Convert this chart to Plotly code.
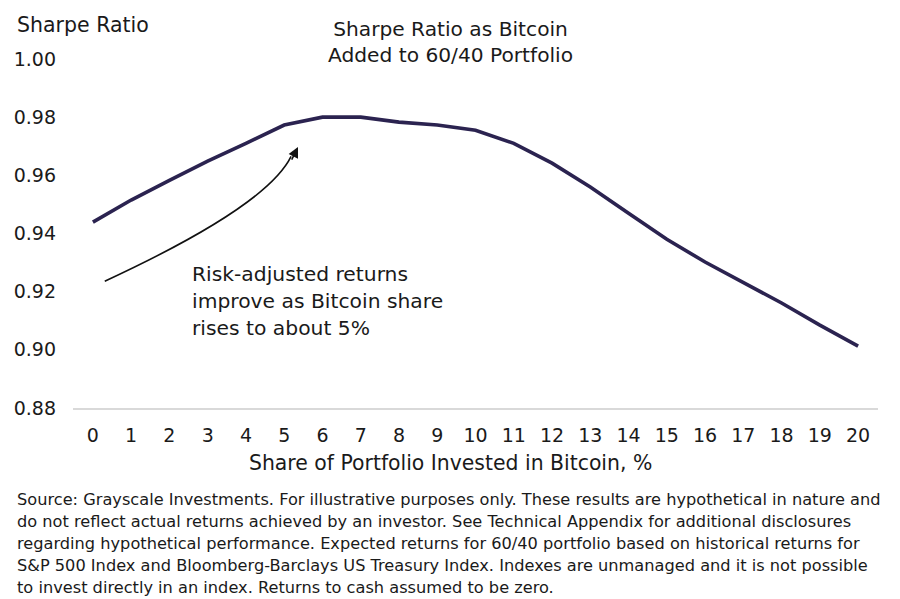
import plotly.graph_objects as go

# Bitcoin share of a 60/40 portfolio (%) and resulting Sharpe ratio
btc_share = list(range(0, 21))
sharpe = [0.9439, 0.9515, 0.9583, 0.9649, 0.9710, 0.9773, 0.9800, 0.9800,
          0.9783, 0.9773, 0.9755, 0.9710, 0.9642, 0.9560, 0.9470, 0.9380,
          0.9302, 0.9233, 0.9161, 0.9085, 0.9013]
y_ticks = [0.88, 0.90, 0.92, 0.94, 0.96, 0.98, 1.00]

note_lines = ["Risk-adjusted returns", "improve as Bitcoin share", "rises to about 5%"]
source_lines = [
    "Source: Grayscale Investments. For illustrative purposes only. These results are hypothetical in nature and",
    "do not reflect actual returns achieved by an investor. See Technical Appendix for additional disclosures",
    "regarding hypothetical performance. Expected returns for 60/40 portfolio based on historical returns for",
    "S&P 500 Index and Bloomberg-Barclays US Treasury Index. Indexes are unmanaged and it is not possible",
    "to invest directly in an index. Returns to cash assumed to be zero.",
]

FONT = "DejaVu Sans"
TXT = "#1a1a1a"

# plot area on screen (page has an 8px body margin)
PL, PR, PT, PB = 73, 878, 59, 408


def px_x(p):
    return (p - PL) / (PR - PL)


def px_y(p):
    return (PB - p) / (PB - PT)


fig = go.Figure()
fig.add_trace(go.Scatter(
    x=btc_share, y=sharpe, mode="lines",
    line=dict(color="#2b2350", width=3.6),
    hoverinfo="skip", showlegend=False,
))

# curved pointer from the note up to the ~5% point
fig.add_shape(type="path", xref="x", yref="y",
              path="M 0.31,0.9236 Q 4.55,0.9494 5.18,0.9665",
              line=dict(color="#111", width=1.6))
fig.add_annotation(x=5.36, y=0.9697, xref="x", yref="y", ax=-7, ay=14,
                   text="", showarrow=True, arrowhead=2, arrowsize=1.3,
                   arrowwidth=1.6, arrowcolor="#111")

for i, line in enumerate(note_lines):
    fig.add_annotation(x=px_x(190), y=px_y(274 + 27 * i), xref="paper", yref="paper",
                       text=line, showarrow=False, xanchor="left", yanchor="middle",
                       font=dict(family=FONT, size=20.3, color=TXT))

fig.add_annotation(x=px_x(450), y=px_y(42.5), xref="paper", yref="paper",
                   text="Sharpe Ratio as Bitcoin<br>Added to 60/40 Portfolio",
                   showarrow=False, xanchor="center", yanchor="middle",
                   font=dict(family=FONT, size=20.2, color=TXT))
fig.add_annotation(x=px_x(15), y=px_y(25), xref="paper", yref="paper", text="Sharpe Ratio",
                   showarrow=False, xanchor="left", yanchor="middle",
                   font=dict(family=FONT, size=20.5, color=TXT))
fig.add_annotation(x=px_x(450), y=px_y(463), xref="paper", yref="paper",
                   text="Share of Portfolio Invested in Bitcoin, %",
                   showarrow=False, xanchor="center", yanchor="middle",
                   font=dict(family=FONT, size=20.4, color=TXT))
for i, line in enumerate(source_lines):
    fig.add_annotation(x=px_x(15), y=px_y(499 + 22.2 * i), xref="paper", yref="paper",
                       text=line, showarrow=False, xanchor="left", yanchor="middle",
                       font=dict(family=FONT, size=16.2, color=TXT))

fig.update_layout(
    width=900, height=599,
    margin=dict(l=PL - 8, r=900 - (PR - 8), t=PT - 8, b=599 - (PB - 8)),
    plot_bgcolor="white", paper_bgcolor="white",
    font=dict(family=FONT, size=19, color=TXT),
    xaxis=dict(range=[-0.52, 20.52], tickmode="array", tickvals=btc_share,
               showgrid=False, zeroline=False, showline=True,
               linecolor="#d9d9d9", linewidth=1.5, ticks="",
               ticklabelstandoff=9, automargin=False),
    yaxis=dict(range=[0.88, 1.0], tickmode="array", tickvals=y_ticks,
               tickformat=".2f", showgrid=False, zeroline=False,
               showline=False, ticklabelstandoff=16, automargin=False),
)

fig.write_html("out.html")
